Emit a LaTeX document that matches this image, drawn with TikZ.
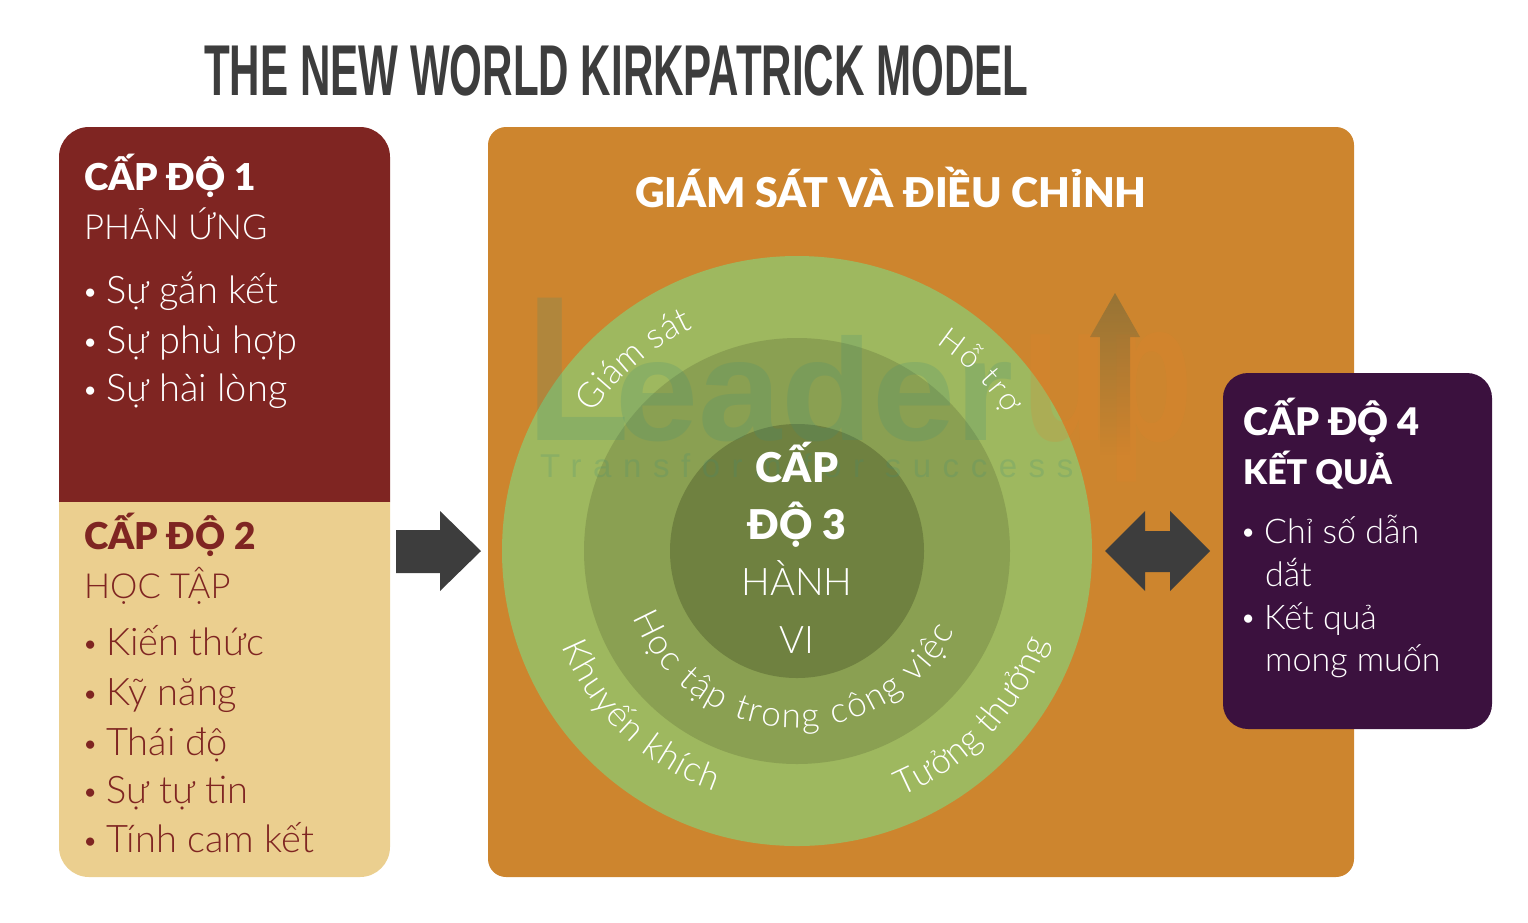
\documentclass[tikz,border=0pt]{standalone}
\usepackage{fontspec}
\setmainfont{Lato}
\newfontfamily\lightfont{Lato Light}
\newfontfamily\blackfont{Lato Black}
\newfontfamily\arialfont{Liberation Sans}
\newfontfamily\spreadfont[LetterSpace=35]{Liberation Sans}
\usetikzlibrary{calc,decorations.text,fadings}
\definecolor{wine}{HTML}{7F2522}
\definecolor{sand}{HTML}{EBCF8F}
\definecolor{ochre}{HTML}{CD852E}
\definecolor{plum}{HTML}{3B113E}
\definecolor{ringa}{HTML}{9EB85F}
\definecolor{ringb}{HTML}{8AA052}
\definecolor{ringc}{HTML}{6F8140}
\definecolor{inkgrey}{HTML}{3D3D3D}
\definecolor{markteal}{HTML}{3C8C78}
\definecolor{markorange}{HTML}{E8802A}
\newcommand{\headsize}{\blackfont\fontsize{37}{37}\selectfont}
\newcommand{\bighead}{\blackfont\fontsize{41}{41}\selectfont}
\newcommand{\bodysize}{\lightfont\fontsize{38}{38}\selectfont}
\newcommand{\capsize}{\lightfont\fontsize{34.5}{34.5}\selectfont}
\newcommand{\sidesize}{\lightfont\fontsize{34}{34}\selectfont}
\newcommand{\ringsize}{\lightfont\fontsize{35}{35}\selectfont\color{white}}
\newcommand{\ringsmall}{\lightfont\fontsize{31}{31}\selectfont\color{white}}
\newcommand{\bul}[1]{\makebox[21pt][l]{\hspace{-3pt}\raisebox{2pt}{\fontsize{28}{28}\selectfont•}}#1}
\tikzset{
  headtxt/.style={anchor=base west,inner sep=0pt,font=\headsize},
  bodytxt/.style={anchor=base west,inner sep=0pt,font=\bodysize},
  nametxt/.style={anchor=base west,inner sep=0pt,font=\capsize},
  sidetxt/.style={anchor=base west,inner sep=0pt,font=\sidesize,text=white},
  midtxt/.style={anchor=base,inner sep=0pt,text=white},
  marktxt/.style={anchor=base west,inner sep=0pt,text opacity=.2,text=markteal},
  uptxt/.style={anchor=base west,inner sep=0pt,text opacity=.18,text=markorange},
  ringtxt/.style={decorate,decoration={text along path,text align={fit to path},text={#1}}}
}
\begin{document}
\begin{tikzpicture}[x=1pt,y=-1pt]
\useasboundingbox (0,0) rectangle (1528,922);
\coordinate (hub) at (797,551);
% title
\node[anchor=base west,inner sep=0pt,text=inkgrey] (title) at (204,95) {\scalebox{.585}[1]{\arialfont\bfseries\fontsize{72}{72}\selectfont THE NEW WORLD KIRKPATRICK MODEL}};
% left column
\fill[wine] (59,502) [rounded corners=30pt] -- (59,127) -- (390,127) [sharp corners] -- (390,502) -- cycle;
\fill[sand] (59,502) [rounded corners=30pt] -- (59,877) -- (390,877) [sharp corners] -- (390,502) -- cycle;
\node[headtxt,text=white] (lvla) at (84,190) {CẤP ĐỘ 1};
\node[nametxt,text=white] (lvlaname) at (84,239) {PHẢN ỨNG};
\node[bodytxt,text=white] (aone) at (85,303) {\bul{Sự gắn kết}};
\node[bodytxt,text=white] (atwo) at (85,353) {\bul{Sự phù hợp}};
\node[bodytxt,text=white] (athree) at (85,401) {\bul{Sự hài lòng}};
\node[headtxt,text=wine] (lvlb) at (84,549) {CẤP ĐỘ 2};
\node[nametxt,text=wine] (lvlbname) at (84,598) {HỌC TẬP};
\node[bodytxt,text=wine] (bone) at (85,655) {\bul{Kiến thức}};
\node[bodytxt,text=wine] (btwo) at (85,705) {\bul{Kỹ năng}};
\node[bodytxt,text=wine] (bthree) at (85,755) {\bul{Thái độ}};
\node[bodytxt,text=wine] (bfour) at (85,803) {\bul{Sự tự tin}};
\node[bodytxt,text=wine] (bfive) at (85,852) {\bul{Tính cam kết}};
% centre panel
\fill[ochre,rounded corners=18pt] (488,127) rectangle (1354,877);
\node[anchor=base,inner sep=0pt,text=white,font=\bighead] (watch) at (891,207) {GIÁM SÁT VÀ ĐIỀU CHỈNH};
\fill[ringa] (hub) circle (295);
\fill[ringb] (hub) circle (213);
\fill[ringc] (hub) circle (127);
% arrows
\fill[inkgrey] (396,530) -- (440,530) -- (440,511) -- (481,551) -- (440,591) -- (440,573) -- (396,573) -- cycle;
\fill[inkgrey] (1105,551) -- (1145,511) -- (1145,531) -- (1170,531) -- (1170,511) -- (1210,551) -- (1170,591) -- (1170,572) -- (1145,572) -- (1145,591) -- cycle;
% watermark
\node[marktxt] (markl) at (526,440) {\scalebox{.82}[1]{\arialfont\bfseries\fontsize{207}{207}\selectfont L}};
\node[marktxt] (markrest) at (615,440) {\scalebox{1.03}[1]{\arialfont\bfseries\fontsize{145}{145}\selectfont eader}};
\node[uptxt] (markup) at (1022,440) {\scalebox{.7}[1]{\arialfont\bfseries\fontsize{200}{200}\selectfont up}};
\node[marktxt] (markline) at (540,477) {\spreadfont\fontsize{33}{33}\selectfont Transform for success};
\fill[inkgrey!50!ringc,opacity=.45,path fading=south] (1115,293) -- (1140,337) -- (1130,337) -- (1130,455) -- (1100,455) -- (1100,337) -- (1090,337) -- cycle;
% ring labels
\path[ringtxt={|\ringsize|Giám sát}] ($(hub)+(146:246pt)$) arc[start angle=146,end angle=115,radius=246pt];
\path[ringtxt={|\ringsmall|Hỗ trợ}] ($(hub)+(56:250pt)$) arc[start angle=56,end angle=33,radius=250pt];
\path[ringtxt={|\ringsize|Khuyến khích}] ($(hub)+(202:254pt)$) arc[start angle=202,end angle=251,radius=254pt];
\path[ringtxt={|\ringsize|Tưởng thưởng}] ($(hub)+(293:267pt)$) arc[start angle=293,end angle=340,radius=267pt];
\path[ringtxt={|\ringsize|Học tập trong công việc}] ($(hub)+(202:177pt)$) arc[start angle=202,end angle=333,radius=177pt];
% centre label
\node[midtxt,font=\bighead] (core) at (797,482) {CẤP};
\node[midtxt,font=\bighead] (coreb) at (797,539) {ĐỘ 3};
\node[midtxt,font=\bodysize] (corec) at (797,595) {HÀNH};
\node[midtxt,font=\bodysize] (cored) at (797,653) {VI};
% right panel
\fill[plum,rounded corners=25pt] (1223,373) rectangle (1492,729);
\node[headtxt,text=white] (lvld) at (1243,435) {\fontsize{38}{38}\selectfont CẤP ĐỘ 4};
\node[headtxt,text=white] (lvldname) at (1243,484) {\fontsize{34}{34}\selectfont KẾT QUẢ};
\node[sidetxt] (done) at (1243,543) {\bul{Chỉ số dẫn}};
\node[sidetxt] (donb) at (1265,586) {dắt};
\node[sidetxt] (dtwo) at (1243,629) {\bul{Kết quả}};
\node[sidetxt] (dtwb) at (1265,671) {mong muốn};
\end{tikzpicture}
\end{document}
